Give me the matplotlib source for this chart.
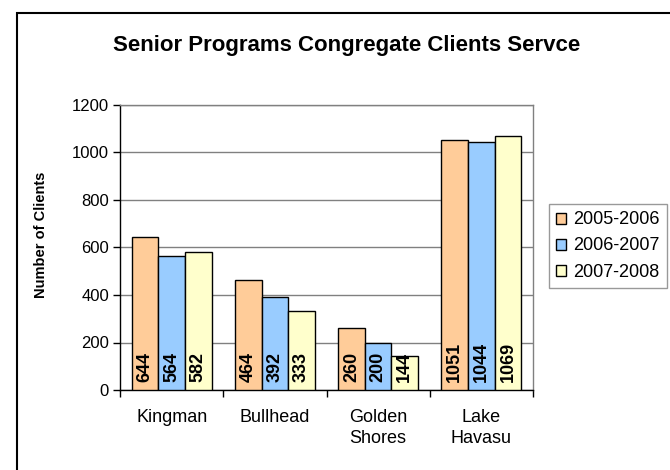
import matplotlib
matplotlib.use("Agg")
import matplotlib.pyplot as plt
import numpy as np
from matplotlib.patches import Rectangle

plt.rcParams['font.family'] = ['Liberation Sans', 'DejaVu Sans']

categories = ["Kingman", "Bullhead", "Golden\nShores", "Lake\nHavasu"]
series_names = ["2005-2006", "2006-2007", "2007-2008"]
v2005 = [644, 464, 260, 1051]
v2006 = [564, 392, 200, 1044]
v2007 = [582, 333, 144, 1069]
yticks = [0, 200, 400, 600, 800, 1000, 1200]

colors = ["#FFCC99", "#99CCFF", "#FFFFCC"]

fig = plt.figure(figsize=(6.7, 4.7), dpi=100)
fig.patches.append(Rectangle((17/670, -0.1), 1.2, (1 - 13/470) + 0.1,
                             transform=fig.transFigure, fill=False,
                             edgecolor='black', linewidth=1.5))
ax = fig.add_axes([120/670, 1 - 390/470, 413/670, 285/470])

x = np.arange(len(categories))
w = 0.258
for i, (vals, name, c) in enumerate(zip([v2005, v2006, v2007], series_names, colors)):
    pos = x + (i - 1) * w
    ax.bar(pos, vals, w, color=c, edgecolor='black', linewidth=1.0,
           label=name, zorder=3)
    for p, v in zip(pos, vals):
        ax.annotate(str(v), xy=(p, 0), xytext=(0, 5.5), textcoords='offset points',
                    rotation=90, ha='center', va='bottom', fontsize=13,
                    fontweight='bold', zorder=4)

ax.set_xlim(-0.5, len(categories) - 0.5)
ax.set_ylim(0, 1200)
ax.set_yticks(yticks)
ax.set_yticklabels([str(t) for t in yticks], fontsize=12)
ax.yaxis.grid(True, color='#808080', linewidth=1.0, zorder=0)
ax.set_axisbelow(True)

ax.set_xticks(x)
ax.set_xticklabels(categories, fontsize=13, linespacing=1.3)
ax.set_xticks(np.arange(len(categories) + 1) - 0.5, minor=True)
ax.tick_params(axis='x', which='major', length=0, pad=14)
ax.tick_params(axis='x', which='minor', length=5, direction='out', width=1)
ax.tick_params(axis='y', length=5, direction='out', width=1, pad=3)

for s in ['left', 'bottom']:
    ax.spines[s].set_color('black')
    ax.spines[s].set_linewidth(1.0)
for s in ['top', 'right']:
    ax.spines[s].set_color('#808080')
    ax.spines[s].set_linewidth(1.0)

ax.set_ylabel("Number of Clients", fontsize=10.5, fontweight='bold')
ax.yaxis.set_label_coords((48 - 120) / 413, (390 - 235) / 285)

fig.text(347/670, 1 - 45/470, "Senior Programs Congregate Clients Servce",
         ha='center', va='center', fontsize=16, fontweight='bold')

leg = fig.legend(loc='center', bbox_to_anchor=(608/670, 1 - 246/470),
                 fontsize=13, frameon=True, fancybox=False, edgecolor='#808080',
                 handlelength=0.55, handleheight=0.55, handletextpad=0.4,
                 labelspacing=0.5, borderpad=0.4, borderaxespad=0)
leg.get_frame().set_linewidth(1.0)

fig.savefig("out.png", dpi=100)
